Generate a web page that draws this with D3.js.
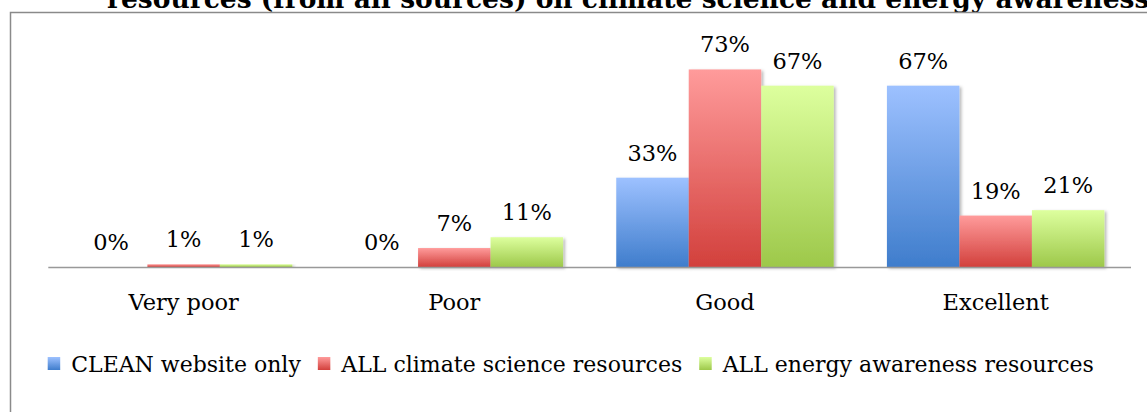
<!DOCTYPE html>
<html>
<head>
<meta charset="utf-8">
<script src="https://cdn.jsdelivr.net/npm/d3@7"></script>
<style>
  html, body { margin: 0; padding: 0; background: #fff; }
  svg { display: block; }
</style>
</head>
<body>
<svg id="chart" width="1147" height="412"></svg>
<script>
// Ratings of resources, share of respondents per rating
const categories = ["Very poor", "Poor", "Good", "Excellent"];
const seriesNames = ["CLEAN website only", "ALL climate science resources", "ALL energy awareness resources"];
const cleanWebsite = [0, 0, 33, 67];
const climateScience = [1, 7, 73, 19];
const energyAwareness = [1, 11, 67, 21];
const titleLine = "resources (from all sources) on climate science and energy awareness";

const seriesValues = [cleanWebsite, climateScience, energyAwareness];
const gradients = [
  { id: "gBlue",  top: "#9dc1ff", bottom: "#3f7dcc" },
  { id: "gRed",   top: "#ff9b9b", bottom: "#d2403c" },
  { id: "gGreen", top: "#ddff9e", bottom: "#9dc84a" }
];

const W = 1147, H = 412;
const svg = d3.select("#chart");
const FONT = "'DejaVu Serif', serif";

const defs = svg.append("defs");
gradients.forEach(g => {
  const lg = defs.append("linearGradient")
    .attr("id", g.id).attr("x1", 0).attr("y1", 0).attr("x2", 0).attr("y2", 1);
  lg.append("stop").attr("offset", "0%").attr("stop-color", g.top);
  lg.append("stop").attr("offset", "100%").attr("stop-color", g.bottom);
});
const shadow = defs.append("filter").attr("id", "barShadow")
  .attr("x", "-10%").attr("y", "-10%").attr("width", "130%").attr("height", "130%");
shadow.append("feDropShadow").attr("dx", 2).attr("dy", 1.5)
  .attr("stdDeviation", 1.6).attr("flood-color", "#000").attr("flood-opacity", 0.28);

// Title (second line of a wrapped heading, running past the top edge)
svg.append("text")
  .attr("x", 107).attr("y", 8)
  .attr("font-family", FONT).attr("font-weight", "bold").attr("font-size", 26.5)
  .attr("fill", "#000")
  .text(titleLine);

// Chart frame
svg.append("path")
  .attr("d", `M10.5,${H} L10.5,12.5 L${W},12.5`)
  .attr("fill", "none").attr("stroke", "#8a8a8a").attr("stroke-width", 1.5);

// Scales
const x0 = d3.scaleBand().domain(categories).range([48.3, 1131]).paddingInner(0).paddingOuter(0);
const x1 = d3.scaleBand().domain(d3.range(seriesNames.length))
  .range([26.6, x0.bandwidth() - 26.6]).padding(0);
const y = d3.scaleLinear().domain([0, 80]).range([267, 50.5]);

// Bars and value labels
const groups = svg.append("g").selectAll("g")
  .data(categories).join("g")
  .attr("transform", d => `translate(${x0(d)},0)`);

groups.each(function (cat, ci) {
  const g = d3.select(this);
  seriesValues.forEach((vals, si) => {
    const v = vals[ci];
    if (v > 0) {
      g.append("rect")
        .attr("x", x1(si)).attr("width", x1.bandwidth())
        .attr("y", y(v)).attr("height", y(0) - y(v))
        .attr("fill", `url(#${gradients[si].id})`)
        .attr("filter", "url(#barShadow)");
    }
    g.append("text")
      .attr("x", x1(si) + x1.bandwidth() / 2)
      .attr("y", y(v) - 17)
      .attr("text-anchor", "middle")
      .attr("font-family", FONT).attr("font-size", 22.5).attr("fill", "#000")
      .text(v + "%");
  });
});

// Category axis
const axis = svg.append("g").attr("transform", `translate(0,${y(0)})`)
  .call(d3.axisBottom(x0).tickSize(0).tickPadding(0));
axis.select(".domain").attr("stroke", "#999").attr("stroke-width", 1.6)
  .attr("d", `M${x0.range()[0]},0.5H${x0.range()[1]}`);
axis.selectAll(".tick text")
  .attr("y", 42.5).attr("dy", 0)
  .attr("font-family", FONT).attr("font-size", 22.5).attr("fill", "#000");

// Legend
const legend = svg.append("g").attr("transform", "translate(47.7,0)");
let lx = 0;
seriesNames.forEach((name, i) => {
  legend.append("rect")
    .attr("x", lx).attr("y", 357).attr("width", 12.5).attr("height", 13)
    .attr("fill", `url(#${gradients[i].id})`);
  lx += 12.5 + 11;
  const t = legend.append("text")
    .attr("x", lx).attr("y", 371.5)
    .attr("font-family", FONT).attr("font-size", 22).attr("fill", "#000")
    .text(name);
  lx += t.node().getComputedTextLength() + 17;
});
</script>
</body>
</html>
